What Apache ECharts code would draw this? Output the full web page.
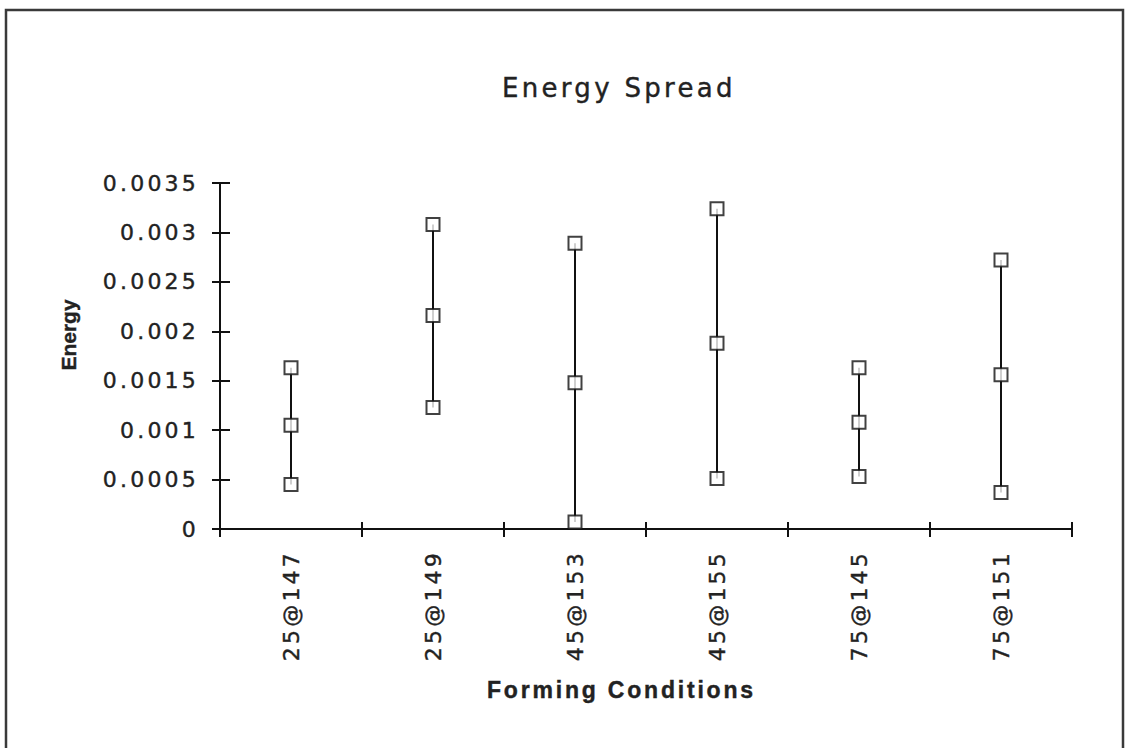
<!DOCTYPE html>
<html>
<head>
<meta charset="utf-8">
<title>Energy Spread</title>
<script src="https://cdn.jsdelivr.net/npm/echarts@6/dist/echarts.min.js"></script>
<style>
  html, body { margin: 0; padding: 0; background: #fff; }
  #chart { width: 1128px; height: 748px; }
  /* spaced-out lettering, keyed by font size */
  #chart text[style*="22px"] { letter-spacing: 3.2px; }
  #chart text[style*="26px"] { letter-spacing: 3.3px; }
  #chart text[style*="23px"] { letter-spacing: 2.8px; }
</style>
</head>
<body>
<div id="chart"></div>
<script>
// Forming conditions (temperature @ pressure)
const categories = ['25@147', '25@149', '45@153', '45@155', '75@145', '75@151'];
// Energy spread per condition: lowest, middle and highest reading
const lowValues  = [0.00045, 0.00123, 0.00007, 0.00051, 0.00053, 0.00037];
const midValues  = [0.00105, 0.00216, 0.00148, 0.00188, 0.00108, 0.00156];
const highValues = [0.00163, 0.00308, 0.00289, 0.00324, 0.00163, 0.00272];
// Value axis range
const yMin = 0, yMax = 0.0035, yStep = 0.0005;

const FONT = "'Liberation Sans', Arial, Helvetica, sans-serif";
const WIDE = "'DejaVu Sans', Verdana, sans-serif";
const INK = '#111';
const TEXT = '#222';
// slight outline so the lettering reads a little heavier
const heavy = { textBorderColor: TEXT, textBorderWidth: 0.4 };

const chart = echarts.init(document.getElementById('chart'), null, { renderer: 'svg' });

const markerStyle = { color: '#fff', borderColor: INK, borderWidth: 2 };
const scatter = (name, values) => ({
  name, type: 'scatter', xAxisIndex: 0, yAxisIndex: 0,
  symbol: 'rect', symbolSize: 13, z: 5,
  itemStyle: markerStyle,
  data: values.map((v, i) => [i, v])
});

const valueAxisBase = { type: 'value', min: yMin, max: yMax, interval: yStep, position: 'left', splitLine: { show: false } };
const catAxisBase = { type: 'category', data: categories, boundaryGap: true, position: 'bottom' };

chart.setOption({
  animation: false,
  backgroundColor: '#fff',
  title: {
    text: 'Energy Spread',
    left: 497, top: 70,
    textStyle: Object.assign({ fontFamily: WIDE, fontSize: 26, fontWeight: 'normal', color: TEXT }, heavy)
  },
  grid: { left: 220, right: 56, top: 183, bottom: 219 },
  xAxis: [
    Object.assign({}, catAxisBase, {
      axisLine: { lineStyle: { color: INK, width: 2 } },
      axisTick: { show: true, length: 8, lineStyle: { color: INK, width: 2 } },
      axisLabel: Object.assign({ rotate: 90, margin: 21, fontFamily: WIDE, fontSize: 22, color: TEXT, interval: 0 }, heavy)
    }),
    Object.assign({}, catAxisBase, {
      axisLine: { show: false },
      axisTick: { show: true, inside: true, length: 7, lineStyle: { color: INK, width: 2 } },
      axisLabel: { show: false }
    })
  ],
  yAxis: [
    Object.assign({}, valueAxisBase, {
      axisLine: { show: true, lineStyle: { color: INK, width: 2 } },
      axisTick: { show: true, length: 8, lineStyle: { color: INK, width: 2 } },
      axisLabel: Object.assign({ margin: 21, fontFamily: WIDE, fontSize: 22, color: TEXT }, heavy)
    }),
    Object.assign({}, valueAxisBase, {
      axisLine: { show: false },
      axisTick: { show: true, inside: true, length: 10, lineStyle: { color: INK, width: 2 } },
      axisLabel: { show: false }
    })
  ],
  graphic: [
    // outer frame
    { type: 'rect', shape: { x: 6, y: 10, width: 1117, height: 745 },
      style: { fill: 'none', stroke: '#3a3a3a', lineWidth: 2.5 }, z: 0 },
    // axis titles
    { type: 'text', x: 68, y: 335, rotation: Math.PI / 2,
      style: { text: 'Energy', fontFamily: FONT, fontSize: 21, fontWeight: 'bold', fill: TEXT,
               stroke: TEXT, lineWidth: 0.4, align: 'center', verticalAlign: 'middle' } },
    { type: 'text', x: 487, y: 690,
      style: { text: 'Forming Conditions', fontFamily: FONT, fontSize: 23, fontWeight: 'bold', fill: TEXT,
               stroke: TEXT, lineWidth: 0.4, align: 'left', verticalAlign: 'middle' } }
  ],
  series: [
    {
      name: 'range', type: 'custom', xAxisIndex: 0, yAxisIndex: 0, z: 2,
      encode: { x: 0, y: [1, 2] },
      data: categories.map((c, i) => [i, lowValues[i], highValues[i]]),
      renderItem(params, api) {
        const lo = api.coord([api.value(0), api.value(1)]);
        const hi = api.coord([api.value(0), api.value(2)]);
        return {
          type: 'line',
          shape: { x1: lo[0], y1: lo[1], x2: hi[0], y2: hi[1] },
          style: { stroke: INK, lineWidth: 2 }
        };
      }
    },
    scatter('low', lowValues),
    scatter('mid', midValues),
    scatter('high', highValues)
  ]
});
</script>
</body>
</html>
